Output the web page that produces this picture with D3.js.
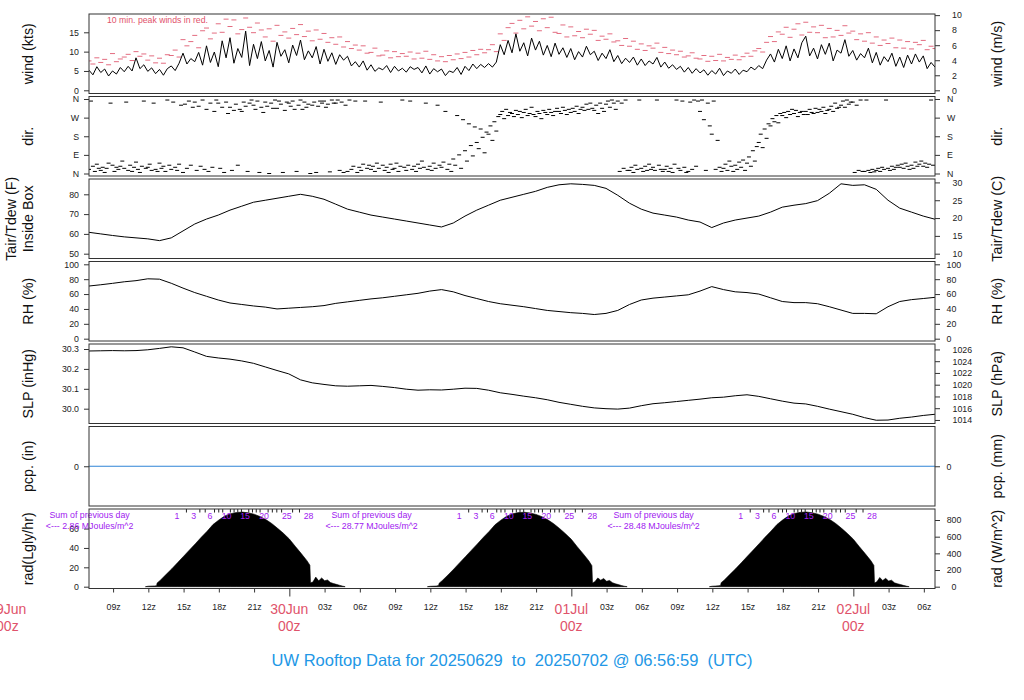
<!DOCTYPE html>
<html>
<head>
<meta charset="utf-8">
<script src="https://cdn.jsdelivr.net/npm/d3@7/dist/d3.min.js"></script>
<style>
html,body{margin:0;padding:0;background:#fff;}
svg{display:block;}
text{font-family:"Liberation Sans",Helvetica,Arial,sans-serif;}
</style>
</head>
<body>
<svg id="chart" width="1024" height="700"></svg>
<script>
// ================= DATA =================
const dataStart = "2025-06-29T06:57:00Z";
const dataEnd   = "2025-07-02T06:57:00Z";

// wind speed (kts), every 20 min from dataStart
const windStepMin = 20;
const windKts = [5.2,4.0,6.1, 4.6,5.5,3.7, 5.0,4.2,5.9, 4.8,6.2,5.0, 8.4,5.6,6.6, 4.9,5.8,4.3, 5.4,3.9,5.6, 6.3,5.1,7.0,
 9.6,6.8,8.2, 7.4,9.8,6.5, 11.5,7.2,9.9, 6.1,12.8,8.4, 13.6,7.0,10.8, 8.5,15.3,6.4, 11.9,8.2,12.6, 7.6,10.3,6.0,
 12.4,8.8,10.5, 7.1,11.7,9.0, 13.0,7.9,10.2, 8.4,11.3,6.8, 10.6,7.5,9.7, 6.7,9.2,7.8, 8.8,6.3,7.4, 6.0,7.6,5.2,
 6.6,4.9,5.8, 5.3,6.4,4.6, 6.2,5.0,5.7, 4.7,6.1,5.4, 5.9,4.5,6.3, 4.2,5.6,4.8, 5.5,3.8,5.0, 4.6,5.9,4.1,
 6.2,5.1,6.8, 5.6,6.7,5.9, 6.9,6.0,7.3, 11.8,9.2,12.9, 9.7,14.6,10.1, 12.3,8.9,13.5, 10.4,12.7,9.1, 11.6,8.7,12.2,
 9.3,11.0,8.5, 10.8,7.9,10.0, 8.6,11.4,9.2, 10.1,7.7,9.6, 8.2,10.5,7.4, 9.0,6.9,8.3, 7.2,8.6,6.5, 8.1,6.4,7.6,
 6.8,8.5,6.0, 7.3,5.7,6.6, 5.4,6.2,4.7, 5.9,4.4,5.6, 4.5,5.3,3.9, 5.1,4.2,5.7, 3.8,5.0,4.4, 5.5,4.1,5.2,
 4.8,6.0,5.3, 6.4,5.6,7.8, 9.4,7.3,10.6, 8.2,11.5,7.6, 10.7,8.4,12.3, 14.0,8.9,10.9, 8.1,11.8,9.3, 12.2,7.6,10.4,
 9.6,13.1,8.8, 10.3,7.8,9.5, 8.4,10.9,7.1, 9.8,6.5,8.7, 7.4,9.6,6.2, 8.6,5.9,9.1, 6.8,9.4,7.3, 8.9,5.6,7.2, 6.0];

// 10 min peak winds (kts), same times as windKts
const gustKts = [7.6,6.8,8.4, 7.2,8.0,6.6, 9.5,7.4,8.1, 8.6,9.3,7.7, 10.0,8.8,9.4, 7.8,8.9,7.1, 8.3,7.0,9.2, 9.0,10.4,8.6,
 13.1,11.5,12.6, 14.2,11.0,15.4, 16.1,13.3,14.8, 17.2,15.0,18.4, 16.5,18.2,14.6, 15.7,18.7,16.3, 14.9,17.4,15.6, 13.8,15.9,12.7,
 16.8,14.2,15.1, 13.5,16.0,14.4, 17.0,13.9,15.3, 12.8,15.6,13.2, 14.7,12.4,13.6, 11.9,13.8,11.2, 12.6,10.8,11.7, 10.4,11.5,9.6,
 9.8,10.9,8.9, 9.1,10.2,8.4, 10.0,8.7,9.5, 8.8,9.9,8.1, 9.6,8.3,10.1, 8.0,9.2,7.6, 8.7,7.4,9.0, 7.9,9.4,8.2,
 9.8,8.6,10.3, 9.2,10.6,9.7, 10.5,11.8,10.0, 14.6,12.9,16.2, 17.3,14.8,18.1, 15.9,19.0,16.6, 17.8,15.4,18.5, 16.2,18.9,15.0,
 14.7,16.9,13.8, 16.4,14.1,15.2, 13.6,15.8,14.5, 15.5,12.9,14.0, 13.2,14.6,12.5, 12.8,11.6,13.4, 11.4,12.7,10.6, 12.0,10.3,11.5,
 10.9,12.2,9.8, 11.1,9.5,10.4, 9.2,10.1,8.6, 8.9,9.7,8.3, 8.1,9.0,7.5, 8.8,7.7,9.3, 7.6,8.5,8.0, 9.1,7.9,8.7,
 9.6,8.8,10.2, 10.8,9.9,12.4, 13.9,12.6,15.1, 14.5,16.3,13.7, 15.8,17.2,14.3, 17.6,15.0,16.4, 14.9,16.8,13.6, 16.0,13.8,15.5,
 14.2,16.7,14.8, 15.3,13.1,14.6, 12.7,14.9,12.2, 13.8,11.6,13.0, 12.1,13.5,11.0, 13.0,10.9,12.6, 10.7,12.4,11.8, 12.9,10.5,11.4, 10.8];

// wind direction (deg), every 10 min from dataStart
const dirStepMin = 10;
const windDirDeg = [20,350,35,10,45,25, 15,30,5,25,50,340, 40,10,30,20,35,60, 25,345,15,40,10,30, 55,20,5,35,350,25, 30,45,15,340,20,10,
 50,25,35,10,355,40, 20,345,30,15,45,330, 5,335,25,350,40,320, 345,15,325,35,355,20, 310,10,340,30,300,355, 340,25,320,5,345,290,
 320,15,305,335,40,310, 300,345,325,10,340,355, 330,310,350,5,320,295, 345,325,0,340,315,355, 315,350,335,5,305,345, 340,325,350,310,10,330,
 355,310,345,320,335,0, 330,345,5,325,350,340, 350,320,335,8,355,340, 340,355,15,345,5,330, 10,355,20,35,350,5, 30,15,45,350,25,40,
 20,35,10,50,25,345, 40,15,30,5,45,20, 25,50,10,35,355,30, 15,40,350,20,35,10, 45,25,60,30,340,20, 35,15,50,25,330,40,
 30,55,300,20,45,10, 70,40,280,90,25,260, 110,60,240,135,85,225, 150,120,215,175,100,200, 190,230,160,250,205,275, 285,300,265,310,280,295,
 290,275,305,285,300,270, 295,310,280,290,320,285, 275,300,290,265,305,295, 285,310,295,280,300,315, 300,290,320,305,285,310, 295,315,300,325,290,310,
 320,305,335,310,340,315, 305,330,290,340,315,300, 335,350,320,355,340,310, 350,10,340,25,355,15, 15,30,5,40,20,355, 25,10,35,15,45,20,
 30,15,355,40,20,10, 20,35,10,25,5,45, 355,25,15,350,30,5, 10,345,20,355,35,350, 300,355,260,15,340,230, 190,350,20,160,30,10,
 25,45,15,60,35,10, 40,20,55,30,65,15, 50,80,35,110,60,130, 150,190,125,215,170,240, 230,265,250,280,245,290, 280,295,270,300,285,310,
 290,305,275,295,300,285, 300,285,310,295,290,315, 295,310,300,320,290,305, 310,325,300,340,315,320, 330,350,320,355,335,345, 345,5,330,15,355,10,
 10,355,15,5,20,8, 15,25,10,30,20,355, 25,15,35,20,30,40, 30,45,25,50,35,20, 40,25,55,35,45,60, 35,50,30,45,355,40];

// hourly series from dataStart
const hourlyStepMin = 60;
const tairF = [60.8,60.0,59.2,58.5,58.0,57.5,56.6,58.0,61.5,65.0,67.5,69.5,72.0,74.0,76.0,77.0,78.0,79.0,80.0,79.0,77.5,75.0,72.5,71.0,
 69.5,68.5,67.5,66.5,65.5,64.5,63.5,65.5,69.0,72.0,74.5,77.0,78.5,80.0,81.5,83.5,84.8,85.3,85.0,84.5,83.0,79.5,75.5,72.5,
 70.5,69.5,68.5,67.0,66.0,63.2,65.5,67.0,68.0,69.0,71.0,73.5,74.5,75.3,76.8,80.5,85.3,84.5,84.8,82.5,77.0,73.0,71.0,69.0,67.4];
const rhPct = [70.8,72.5,74.4,76.5,78.0,80.5,80.0,74.5,68.0,62.0,57.0,52.0,48.0,46.0,44.0,42.5,40.0,41.0,42.0,43.0,44.5,47.5,49.5,51.5,
 53.5,55.0,57.0,59.0,61.0,64.0,66.0,63.0,58.0,54.0,50.0,47.0,45.0,43.0,40.5,38.0,36.5,35.0,34.0,32.5,34.0,38.0,46.0,52.0,
 54.5,56.0,57.5,59.0,64.0,70.0,66.0,63.0,62.0,60.0,55.0,50.0,48.5,48.5,47.0,43.0,38.5,34.0,34.0,33.5,43.0,50.0,52.5,54.0,55.6];
const slpInHg = [30.290,30.291,30.292,30.291,30.292,30.296,30.303,30.311,30.306,30.285,30.263,30.255,30.249,30.240,30.228,30.210,30.192,30.175,30.145,30.130,30.122,30.115,30.113,30.115,
 30.117,30.112,30.106,30.098,30.093,30.095,30.094,30.098,30.103,30.102,30.093,30.080,30.072,30.063,30.055,30.045,30.032,30.022,30.012,30.004,30.000,29.998,30.003,30.015,
 30.025,30.030,30.036,30.042,30.048,30.055,30.058,30.065,30.070,30.062,30.050,30.038,30.028,30.024,30.012,29.998,29.985,29.972,29.955,29.942,29.943,29.952,29.958,29.966,29.972];

// precipitation (in), every 6 h
const pcpStepMin = 360;
const pcpIn = [0,0,0,0,0,0,0,0,0,0,0,0,0];

// solar radiation (W/m^2); hours relative to 00z of each listed day
const radDays = ["2025-06-30","2025-07-01","2025-07-02"];
const radHours = [-12.25,-12,-11.5,-11.3,-11.25,-11,-10.5,-10,-9.5,-9,-8.5,-8,-7.5,-7,-6.5,-6,-5.5,-5,-4.5,-4,-3.5,-3,-2.5,-2,-1.5,-1,-0.5,0,0.5,1,1.5,1.75,1.8,2,2.25,2.5,2.75,3,3.25,3.5,3.75,4,4.25,4.5,4.75];
const radDay1 = [0,6,9,12,45,75,145,215,290,365,440,515,592,665,745,800,848,875,890,895,886,870,842,805,758,700,640,572,485,400,312,258,48,55,115,70,105,72,80,50,38,28,18,8,0];
const radDay2 = [0,5,8,14,42,72,140,212,288,362,438,512,590,662,742,798,845,874,889,893,884,867,840,802,755,698,636,568,480,396,308,252,45,60,105,78,98,65,75,48,35,25,15,6,0];
const radDay3 = [0,6,10,15,48,78,148,218,292,368,442,518,595,668,746,802,850,878,892,896,887,870,843,806,758,700,638,570,482,398,310,255,44,58,110,74,100,68,78,46,36,26,16,7,0];
const radSumTimes = ["2025-06-29T07:00:00Z","2025-06-30T07:00:00Z","2025-07-01T07:00:00Z"];
const radSums = [2.86, 28.77, 28.48];
const radMarkLabels = [1,3,6,10,15,20,25,28];

const dirTickLabels = ["N","E","S","W","N"];
const titleText = "UW Rooftop Data for 20250629  to  20250702 @ 06:56:59  (UTC)";

// ================= DRAWING =================
const FONT = '"Liberation Sans", Helvetica, Arial, sans-serif';
const RED = "#DF536B", PURPLE = "#A020F0", BLUE = "#2297E6";
const svg = d3.select("#chart");
const X0 = 89, X1 = 935;
const t0 = new Date(dataStart), t1 = new Date(dataEnd);
const x = d3.scaleUtc().domain([t0, t1]).range([X0, X1]);
const PANEL_TOP = 14, PANEL_STEP = 82.5, PANEL_H = 79.5, NPANEL = 7;
const pTop = i => PANEL_TOP + i * PANEL_STEP;
const timesFor = (n, stepMin) => d3.range(n).map(i => new Date(+t0 + i * stepMin * 60000));

// scales
const windY = d3.scaleLinear().domain([0, 15]).range([90.3, 32.3]);
const KT_PER_MS = 1.943844;
const windMsY = d3.scaleLinear().domain(windY.domain().map(v => v / KT_PER_MS)).range(windY.range());
const dirY = d3.scaleLinear().domain([0, 360]).range([173.5, 99]);
const tairY = d3.scaleLinear().domain([50, 80]).range([253.7, 194.3]);
const tairCY = d3.scaleLinear().domain(tairY.domain().map(f => (f - 32) * 5 / 9)).range(tairY.range());
const rhY = d3.scaleLinear().domain([0, 100]).range([338.7, 264.3]);
const slpY = d3.scaleLinear().domain([30.0, 30.3]).range([408.7, 349]);
const HPA_IN_INHG = 0.02953;
const slpHpaY = d3.scaleLinear().domain(slpY.domain().map(v => v / HPA_IN_INHG)).range(slpY.range());
const pcpY = d3.scaleLinear().domain([-1, 1]).range([506, 426.5]);
const pcpMmY = d3.scaleLinear().domain(pcpY.domain().map(v => v * 25.4)).range(pcpY.range());
const radY = d3.scaleLinear().domain([0, 800]).range([586.7, 520]);
const W_PER_LYHR = 41840 / 3600;
const radLyY = d3.scaleLinear().domain(radY.domain().map(v => v / W_PER_LYHR)).range(radY.range());

// clip paths
const defs = svg.append("defs");
for (let i = 0; i < NPANEL; i++) {
  defs.append("clipPath").attr("id", "clip" + i)
    .append("rect").attr("x", X0).attr("y", pTop(i)).attr("width", X1 - X0).attr("height", PANEL_H);
}
const layer = i => svg.append("g").attr("clip-path", `url(#clip${i})`);

// ---- wind panel
const windT = timesFor(windKts.length, windStepMin);
const gW = layer(0);
gW.selectAll("line.gust").data(gustKts).join("line").attr("class", "gust")
  .attr("x1", (d, i) => x(windT[i]) - 2.5).attr("x2", (d, i) => x(windT[i]) + 2.5)
  .attr("y1", d => windY(d)).attr("y2", d => windY(d))
  .attr("stroke", RED).attr("stroke-width", 1).attr("opacity", 0.85);
gW.append("path").datum(windKts)
  .attr("d", d3.line().x((d, i) => x(windT[i])).y(d => windY(d)))
  .attr("fill", "none").attr("stroke", "#000").attr("stroke-width", 1);
svg.append("text").attr("x", 107).attr("y", 22.5).attr("font-size", 8.7).attr("fill", RED)
  .text("10 min. peak winds in red.");

// ---- direction panel
const dirT = timesFor(windDirDeg.length, dirStepMin);
layer(1).selectAll("line").data(windDirDeg).join("line")
  .attr("x1", (d, i) => x(dirT[i]) - 2).attr("x2", (d, i) => x(dirT[i]) + 2)
  .attr("y1", d => dirY(d)).attr("y2", d => dirY(d))
  .attr("stroke", "#000").attr("stroke-width", 1);

// ---- hourly line panels
const hourT = timesFor(tairF.length, hourlyStepMin);
function hourlyLine(i, arr, yScale) {
  layer(i).append("path").datum(arr)
    .attr("d", d3.line().x((d, k) => x(hourT[k])).y(d => yScale(d)))
    .attr("fill", "none").attr("stroke", "#000").attr("stroke-width", 1);
}
hourlyLine(2, tairF, tairY);
hourlyLine(3, rhPct, rhY);
hourlyLine(4, slpInHg, slpY);

// ---- pcp
const pcpT = timesFor(pcpIn.length, pcpStepMin);
layer(5).append("path").datum(pcpIn)
  .attr("d", d3.line().x((d, k) => x(pcpT[k])).y(d => pcpY(d)))
  .attr("fill", "none").attr("stroke", "#2F84D6").attr("stroke-width", 1.2);

// ---- radiation
const radValues = [radDay1, radDay2, radDay3];
const gR = layer(6);
radDays.forEach((day, di) => {
  const base = new Date(day + "T00:00:00Z");
  const vals = radValues[di];
  const pts = radHours.map((h, k) => ({ t: new Date(+base + h * 3600000), h: h, v: vals[k] }));
  gR.append("path").datum(pts)
    .attr("d", d3.area().x(d => x(d.t)).y0(radY(0)).y1(d => radY(d.v)))
    .attr("fill", "#000").attr("stroke", "#000").attr("stroke-width", 0.6);
  // cumulative energy marks (MJ/m^2)
  let cum = 0; const cums = [0];
  for (let k = 1; k < pts.length; k++) {
    cum += (pts[k].v + pts[k - 1].v) / 2 * (pts[k].h - pts[k - 1].h) * 3600 / 1e6;
    cums.push(cum);
  }
  for (let m = 1; m <= Math.floor(cum); m++) {
    const k = cums.findIndex(c => c >= m);
    const f = (m - cums[k - 1]) / (cums[k] - cums[k - 1]);
    const h = pts[k - 1].h + f * (pts[k].h - pts[k - 1].h);
    const xm = x(new Date(+base + h * 3600000));
    if (radMarkLabels.includes(m)) {
      svg.append("text").attr("x", xm).attr("y", 518.5).attr("text-anchor", "middle")
        .attr("font-size", 8.8).attr("fill", PURPLE).text(m);
    } else {
      svg.append("line").attr("x1", xm).attr("x2", xm).attr("y1", 509).attr("y2", 512.5)
        .attr("stroke", "#222").attr("stroke-width", 1);
    }
  }
});

// ---- axes
function styleAxis(g) {
  g.select(".domain").remove();
  g.selectAll(".tick line").attr("stroke", "#333");
  g.selectAll(".tick text").attr("fill", "#222").attr("font-size", 8.8).attr("font-family", FONT);
}
function leftAxis(scale, vals, fmt) {
  const g = svg.append("g").attr("transform", `translate(${X0},0)`)
    .call(d3.axisLeft(scale).tickValues(vals).tickFormat(fmt).tickSize(5).tickPadding(5));
  styleAxis(g);
}
function rightAxis(scale, vals, fmt, labelX, anchor) {
  const g = svg.append("g").attr("transform", `translate(${X1},0)`)
    .call(d3.axisRight(scale).tickValues(vals).tickFormat(fmt).tickSize(5));
  styleAxis(g);
  g.selectAll(".tick text").attr("x", labelX - X1).attr("text-anchor", anchor || "start");
}
const fmtInt = d3.format("d");
leftAxis(windY, [0, 5, 10, 15], fmtInt);
rightAxis(windMsY, [0, 2, 4, 6, 8, 10], fmtInt, 952);
leftAxis(dirY, [0, 90, 180, 270, 360], (d, i) => dirTickLabels[i]);
rightAxis(dirY, [0, 90, 180, 270, 360], (d, i) => dirTickLabels[i], 947);
leftAxis(tairY, [50, 60, 70, 80], fmtInt);
rightAxis(tairCY, [10, 15, 20, 25, 30], fmtInt, 952.5);
leftAxis(rhY, [0, 20, 40, 60, 80, 100], fmtInt);
rightAxis(rhY, [0, 20, 40, 60, 80, 100], fmtInt, 946.5);
leftAxis(slpY, [30.0, 30.1, 30.2, 30.3], d3.format(".1f"));
rightAxis(slpHpaY, [1014, 1016, 1018, 1020, 1022, 1024, 1026], fmtInt, 952.5);
leftAxis(pcpY, [0], fmtInt);
rightAxis(pcpMmY, [0], fmtInt, 946.5);
leftAxis(radLyY, [0, 20, 40, 60], fmtInt);
rightAxis(radY, [0, 200, 400, 600, 800], fmtInt, 954, "middle");

// bottom time axis
const bottom = pTop(NPANEL - 1) + PANEL_H;
const xTicks = d3.utcHour.every(3).range(t0, t1);
const gx = svg.append("g").attr("transform", `translate(0,${bottom})`)
  .call(d3.axisBottom(x).tickValues(xTicks).tickSize(4)
    .tickFormat(d => d.getUTCHours() === 0 ? "" : d3.utcFormat("%Hz")(d)));
styleAxis(gx);
gx.selectAll(".tick line").attr("y2", d => d.getUTCHours() === 0 ? 8 : 4);
gx.selectAll(".tick text").attr("y", 21).attr("dy", 0);

// date labels at 00z
const dayMarks = d3.utcDay.range(d3.utcDay.floor(t0), t1);
dayMarks.forEach(d => {
  const g = svg.append("g").attr("fill", RED).attr("font-size", 14).attr("text-anchor", "middle");
  g.append("text").attr("x", x(d)).attr("y", bottom + 25.5).text(d3.utcFormat("%d%b")(d));
  g.append("text").attr("x", x(d)).attr("y", bottom + 42).text("00z");
});

// daily sums text
radSumTimes.forEach((s, i) => {
  const xs = x(new Date(s));
  const g = svg.append("g").attr("fill", PURPLE).attr("font-size", 8.8).attr("text-anchor", "middle");
  g.append("text").attr("x", xs).attr("y", 518).text("Sum of previous day");
  g.append("text").attr("x", xs).attr("y", 528.5).text("<--- " + radSums[i].toFixed(2) + " MJoules/m^2");
});

// panel boxes
for (let i = 0; i < NPANEL; i++) {
  svg.append("rect").attr("x", X0).attr("y", pTop(i)).attr("width", X1 - X0).attr("height", PANEL_H)
    .attr("fill", "none").attr("stroke", "#333").attr("stroke-width", 1);
}

// axis titles
const leftTitles = [["wind (kts)"], ["dir."], ["Tair/Tdew (F)", "Inside Box"], ["RH (%)"], ["SLP (inHg)"], ["pcp. (in)"], ["rad(Lgly/hr)"]];
const rightTitles = ["wind (m/s)", "dir.", "Tair/Tdew (C)", "RH (%)", "SLP (hPa)", "pcp. (mm)", "rad (W/m^2)"];
leftTitles.forEach((lines, i) => {
  const cy = pTop(i) + PANEL_H / 2;
  lines.forEach((txt, j) => {
    const bx = lines.length === 1 ? 32.5 : (j === 0 ? 15.5 : 32.5);
    svg.append("text").attr("transform", `translate(${bx},${cy}) rotate(-90)`)
      .attr("text-anchor", "middle").attr("font-size", 14.3).attr("fill", "#111").text(txt);
  });
});
rightTitles.forEach((txt, i) => {
  const cy = pTop(i) + PANEL_H / 2;
  svg.append("text").attr("transform", `translate(1002,${cy}) rotate(-90)`)
    .attr("text-anchor", "middle").attr("font-size", 14.3).attr("fill", "#111").text(txt);
});

// title
svg.append("text").attr("x", 512).attr("y", 666).attr("text-anchor", "middle")
  .attr("font-size", 16.5).attr("fill", BLUE).style("white-space", "pre").text(titleText);
</script>
</body>
</html>
